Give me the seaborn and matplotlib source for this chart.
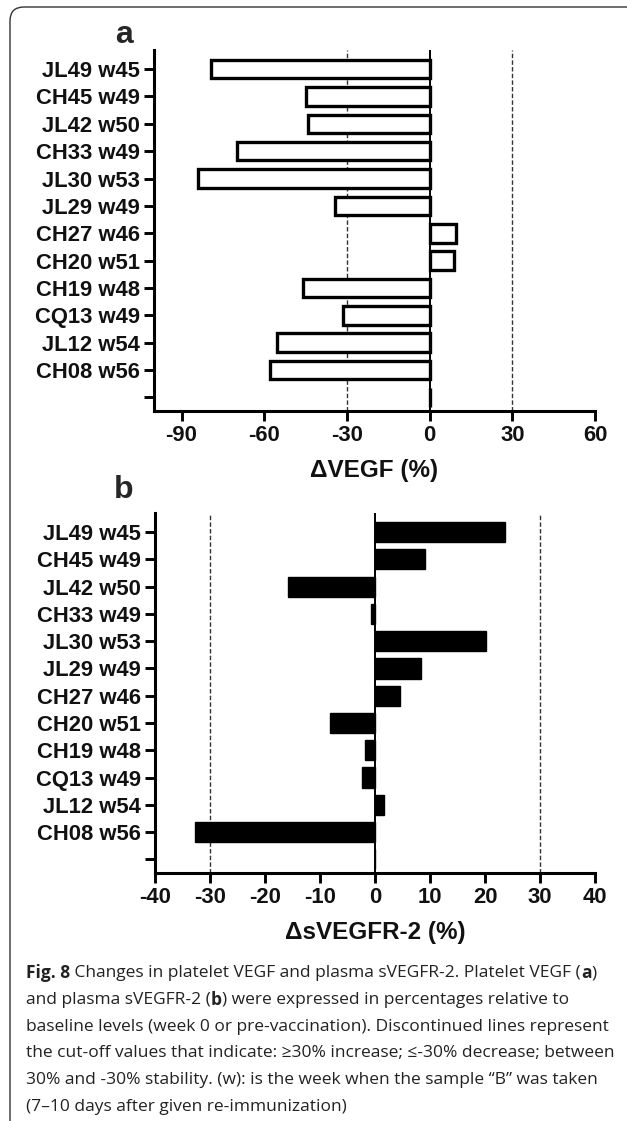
import numpy as np
import pandas as pd
import matplotlib
matplotlib.use("Agg")
import matplotlib.pyplot as plt
import seaborn as sns
from matplotlib.patches import FancyBboxPatch
from matplotlib.transforms import IdentityTransform

# ---- data -------------------------------------------------------------
samples = ["JL49 w45", "CH45 w49", "JL42 w50", "CH33 w49", "JL30 w53", "JL29 w49",
           "CH27 w46", "CH20 w51", "CH19 w48", "CQ13 w49", "JL12 w54", "CH08 w56", " "]
delta_vegf = [-79.5, -45, -44, -70, -84, -34.5, 9.5, 9, -46, -31.5, -55.5, -58, 0]
delta_svegfr2 = [23.6, 9, -15.8, -0.8, 20.2, 8.4, 4.6, -8.2, -1.9, -2.3, 1.6, -32.7, 0]
vegf_ticks = [-90, -60, -30, 0, 30, 60]
svegfr_ticks = [-40, -30, -20, -10, 0, 10, 20, 30, 40]
cutoffs = [-30, 30]

caption_lines = [
    [("Fig. 8", True), (" Changes in platelet VEGF and plasma sVEGFR-2. Platelet VEGF (", False),
     ("a", True), (")", False)],
    [("and plasma sVEGFR-2 (", False), ("b", True),
     (") were expressed in percentages relative to", False)],
    [("baseline levels (week 0 or pre-vaccination). Discontinued lines represent", False)],
    [("the cut-off values that indicate: \u226530% increase; \u2264-30% decrease; between", False)],
    [("30% and -30% stability. (w): is the week when the sample \u201cB\u201d was taken", False)],
    [("(7\u201310 days after given re-immunization)", False)],
]

df = pd.DataFrame({"sample": samples, "vegf": delta_vegf, "svegfr2": delta_svegfr2})

# ---- style --------------------------------------------------------------
sns.set_theme(style="ticks")
plt.rcParams["font.family"] = ["Liberation Sans", "DejaVu Sans"]

W, H = 627, 1121
fig = plt.figure(figsize=(W / 100, H / 100), dpi=100)
fig.patch.set_facecolor("white")


def px_axes(left, top, right, bottom):
    return fig.add_axes([left / W, 1 - bottom / H, (right - left) / W, (bottom - top) / H])


def style_axes(ax, ticks, xlim, xlabel):
    ax.set_xlim(*xlim)
    ax.set_xticks(ticks)
    ax.set_xticklabels([str(t) for t in ticks])
    ax.set_ylim(len(samples) - 0.5, -0.7)
    ax.axvline(0, color="black", lw=1.4, zorder=3)
    for c in cutoffs:
        ax.axvline(c, color="#333333", lw=1.0, ls=(0, (3.2, 1.6)), zorder=1)
    for side in ("top", "right"):
        ax.spines[side].set_visible(False)
    for side in ("left", "bottom"):
        ax.spines[side].set_linewidth(2.2)
        ax.spines[side].set_color("black")
        ax.spines[side].set_capstyle("projecting")
    ax.tick_params(axis="both", direction="out", length=7.2, width=2.1, color="black",
                   labelsize=15.8, pad=3)
    for lab in ax.get_xticklabels() + ax.get_yticklabels():
        lab.set_fontweight("bold")
        lab.set_color("#111111")
    ax.set_ylabel("")
    ax.set_xlabel(xlabel, fontsize=17.5, fontweight="bold", labelpad=9, color="#111111")
    ax.set_facecolor("white")


# ---- panel a: platelet VEGF ------------------------------------------------
ax_a = px_axes(154, 50, 595, 411)
sns.barplot(data=df, x="vegf", y="sample", orient="h", order=samples,
            color="white", edgecolor="black", linewidth=2.4, width=0.68,
            saturation=1, ax=ax_a, zorder=2)
style_axes(ax_a, vegf_ticks, (-100, 60), "\u0394VEGF (%)")

# ---- panel b: plasma sVEGFR-2 ---------------------------------------------
ax_b = px_axes(155, 513, 595, 873)
sns.barplot(data=df, x="svegfr2", y="sample", orient="h", order=samples,
            color="black", edgecolor="black", linewidth=1.0, width=0.74,
            saturation=1, ax=ax_b, zorder=2)
style_axes(ax_b, svegfr_ticks, (-40, 40), "\u0394sVEGFR-2 (%)")

# panel letters
fig.text(124 / W, 1 - 35 / H, "a", fontsize=23, fontweight="bold", ha="center", va="center")
fig.text(124 / W, 1 - 490 / H, "b", fontsize=23, fontweight="bold", ha="center", va="center")

# ---- caption with mixed weights ------------------------------------------
renderer = fig.canvas.get_renderer()
cap_family = ["Open Sans", "DejaVu Sans"]
cap_size = 12.5
line_y = [973, 1000, 1027, 1053, 1080, 1107]
for segs, y in zip(caption_lines, line_y):
    x = 26
    for text, bold in segs:
        t = fig.text(x / W, 1 - y / H, text, fontsize=cap_size, family=cap_family,
                     fontweight="bold" if bold else "normal", color="#222222",
                     ha="left", va="center")
        bb = t.get_window_extent(renderer=renderer)
        x += bb.width

# ---- frame around the figure ----------------------------------------------
frame = FancyBboxPatch((10, -40), W + 30, (H - 7) + 40,
                       boxstyle="round,pad=0,rounding_size=14",
                       transform=IdentityTransform(), fill=False,
                       edgecolor="#333333", linewidth=1.0)
fig.patches.append(frame)

fig.savefig("out.png", dpi=100, facecolor="white")
